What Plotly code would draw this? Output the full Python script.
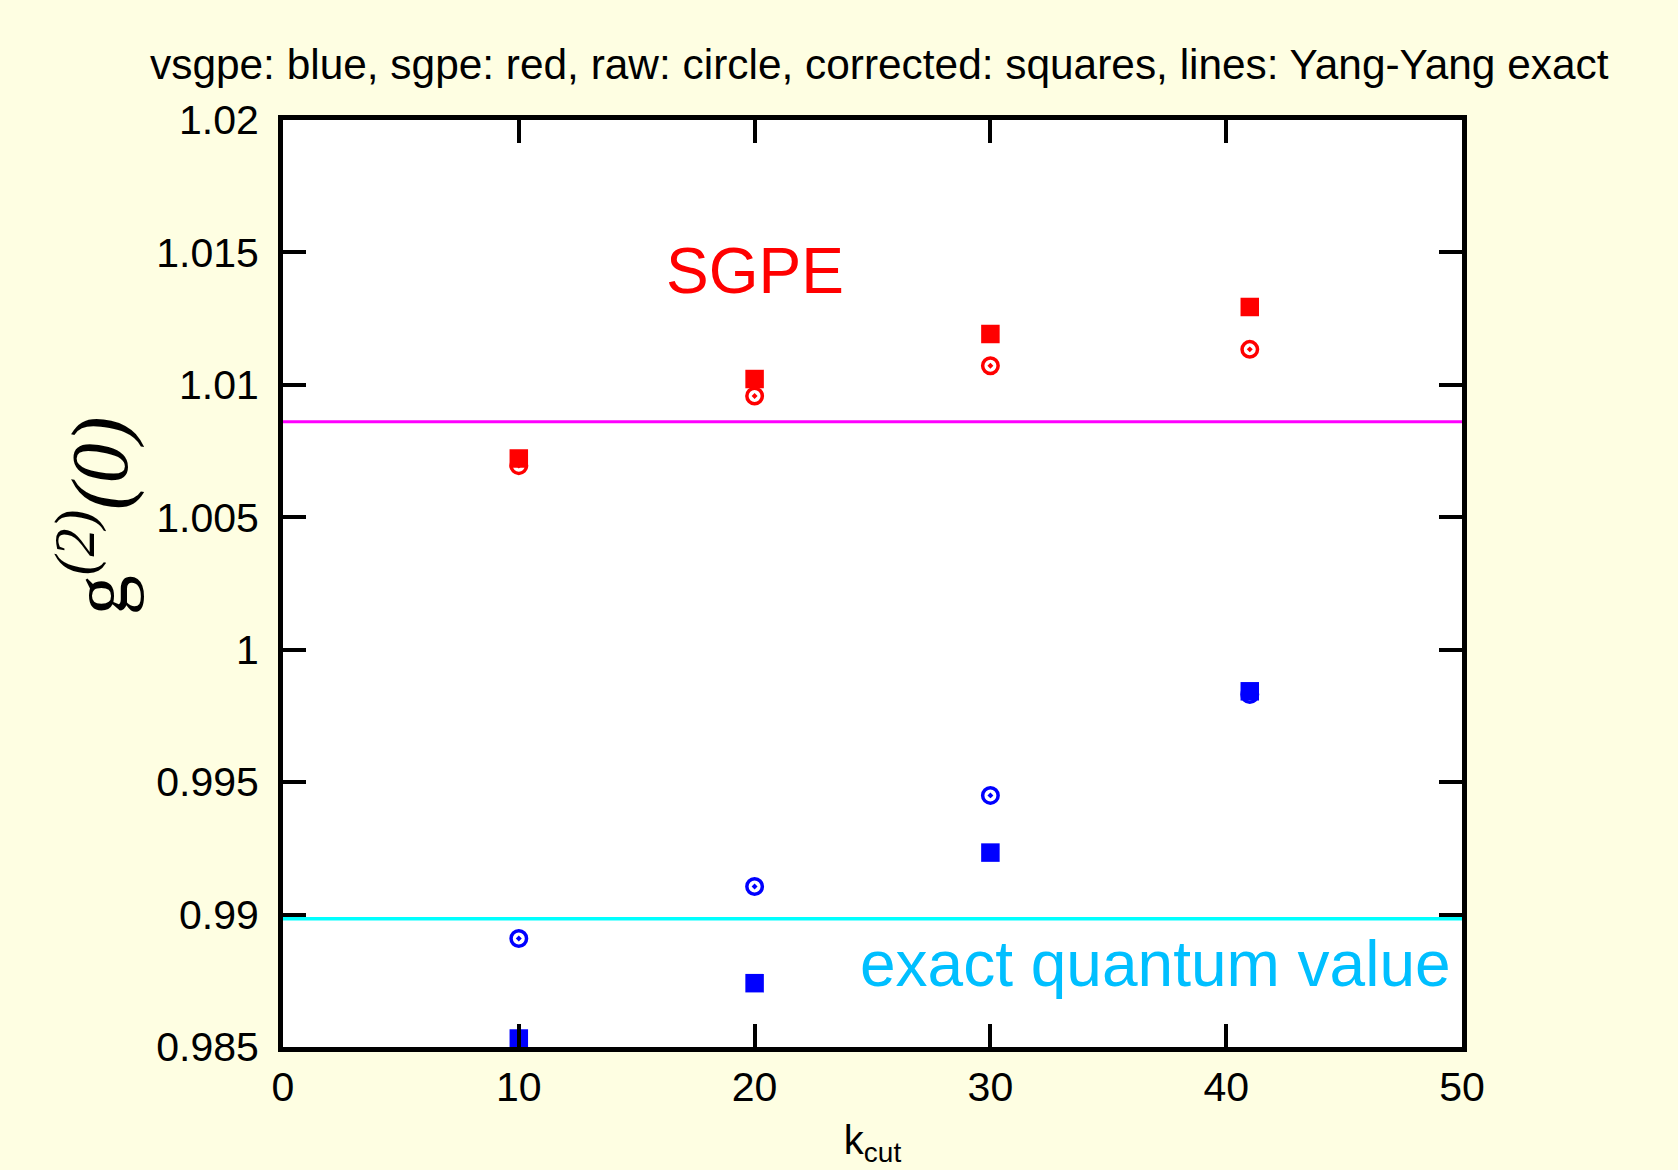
import plotly.graph_objects as go

# ---- data ----
k_cut = [10, 20, 30, 41]
sgpe_raw = [1.00695, 1.00958, 1.01072, 1.01134]
sgpe_corrected = [1.00722, 1.01022, 1.01192, 1.01294]
wsgpe_raw = [0.98910, 0.99106, 0.99450, 0.99831]
wsgpe_corrected = [0.98532, 0.98741, 0.99234, 0.99843]
line_x = [0, 50]
yang_yang_sgpe = 1.00861
yang_yang_quantum = 0.98984

x_ticks = [0, 10, 20, 30, 40, 50]
y_ticks = [0.985, 0.99, 0.995, 1.0, 1.005, 1.01, 1.015, 1.02]
y_tick_text = ["0.985", "0.99", "0.995", "1", "1.005", "1.01", "1.015", "1.02"]

title_text = "vsgpe: blue, sgpe: red, raw: circle, corrected: squares, lines: Yang-Yang exact"

RED = "#ff0000"
BLUE = "#0000ff"
MAGENTA = "#ff00ff"
CYAN = "#00ffff"
SKY = "#00bfff"
BG = "#fefee2"
FONT = "Liberation Sans, Arial, sans-serif"

fig = go.Figure()

fig.add_trace(go.Scatter(x=line_x, y=[yang_yang_sgpe] * len(line_x), mode="lines",
                         line=dict(color=MAGENTA, width=3), showlegend=False))
fig.add_trace(go.Scatter(x=line_x, y=[yang_yang_quantum] * len(line_x), mode="lines",
                         line=dict(color=CYAN, width=3.5), showlegend=False))

sq = dict(symbol="square", size=18.5, line=dict(width=0))
for ys, col in [(sgpe_corrected, RED), (wsgpe_corrected, BLUE)]:
    fig.add_trace(go.Scatter(x=k_cut, y=ys, mode="markers",
                             marker=dict(color=col, **sq), showlegend=False))
for ys, col in [(sgpe_raw, RED), (wsgpe_raw, BLUE)]:
    fig.add_trace(go.Scatter(x=k_cut, y=ys, mode="markers",
                             marker=dict(symbol="circle-open-dot", size=15.5, color=col,
                                         line=dict(color=col, width=3.5)),
                             showlegend=False))

axis_common = dict(
    showline=True, linecolor="black", linewidth=5, mirror="ticks",
    ticks="inside", ticklen=23, tickwidth=4, tickcolor="black",
    showgrid=False, zeroline=False, automargin=False,
    tickfont=dict(family=FONT, size=41, color="black"),
)

fig.update_xaxes(range=[0, 50], tickvals=x_ticks, ticklabelstandoff=0,
                 title=dict(text="k<sub>cut</sub>", font=dict(family=FONT, size=40, color="black"),
                            standoff=18),
                 **axis_common)
fig.update_yaxes(range=[0.985, 1.02], tickvals=y_ticks, ticktext=y_tick_text,
                 ticklabelstandoff=11, **axis_common)

fig.add_annotation(text="SGPE", x=20, y=1.0143, xref="x", yref="y",
                   showarrow=False, xanchor="center", yanchor="middle",
                   font=dict(family=FONT, size=64, color=RED))
fig.add_annotation(text="exact quantum value", x=49.6, y=0.98815, xref="x", yref="y",
                   showarrow=False, xanchor="right", yanchor="middle",
                   font=dict(family=FONT, size=64, color=SKY))
fig.add_annotation(text="g<sup><i>(2)</i></sup><i>(0)</i>", x=-0.16, y=0.573,
                   xref="paper", yref="paper", showarrow=False, textangle=-90,
                   xanchor="center", yanchor="middle",
                   font=dict(family="Liberation Serif, Times New Roman, serif", size=80, color="black"))

fig.update_layout(
    width=1678, height=1170,
    margin=dict(l=283, r=216, t=120, b=123, pad=0),
    paper_bgcolor=BG, plot_bgcolor="white",
    title=dict(text=title_text, x=0.524, y=0.945, xanchor="center", yanchor="middle",
               font=dict(family=FONT, size=42.4, color="black")),
    showlegend=False,
)

fig.write_html("out.html", config={"displayModeBar": False},
               post_script="document.body.style.margin='0px';document.body.style.background='%s';" % BG)
